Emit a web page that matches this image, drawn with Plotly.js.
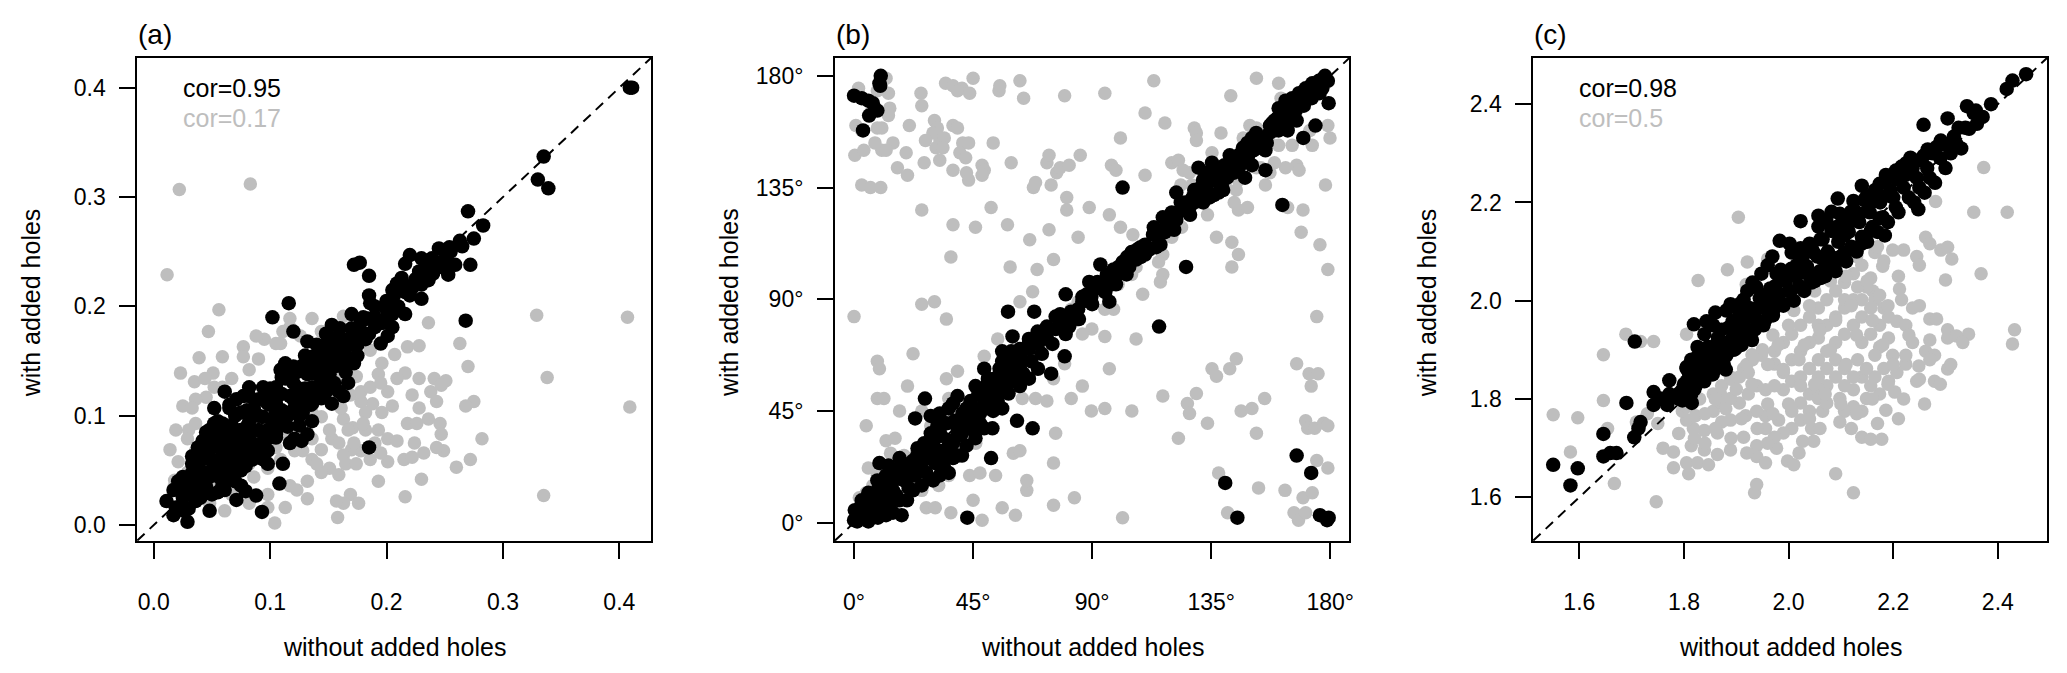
<!DOCTYPE html>
<html>
<head>
<meta charset="utf-8">
<script src="https://cdn.plot.ly/plotly-3.0.1.min.js"></script>
<style>
  html, body { margin: 0; padding: 0; background: #fff; }
  #chart { width: 2067px; height: 673px; }
</style>
</head>
<body>
<div id="chart"></div>
<script>
// Panel (a): pairs [without holes, with added holes]
const aGrey = [[0.022,0.307],[0.083,0.312],[0.0115,0.229],[0.056,0.197],[0.047,0.177],[0.329,0.192],[0.407,0.190],[0.338,0.135],[0.409,0.108],[0.335,0.027],[0.236,0.185],[0.263,0.166],[0.270,0.145],[0.275,0.113],[0.282,0.079],[0.272,0.060],[0.260,0.053],[0.249,0.068],[0.246,0.093],[0.230,0.042],[0.216,0.026],[0.193,0.040],[0.158,0.007],[0.104,0.002],[0.095,0.170],[0.088,0.173],[0.077,0.163],[0.059,0.154],[0.039,0.153],[0.023,0.139],[0.035,0.131],[0.051,0.139],[0.025,0.109],[0.014,0.069],[0.018,0.041],[0.030,0.087],[0.045,0.117],[0.036,0.115],[0.067,0.134],[0.077,0.154],[0.090,0.152],[0.105,0.166],[0.111,0.177],[0.117,0.181],[0.126,0.173],[0.163,0.191],[0.174,0.181],[0.186,0.160],[0.193,0.138],[0.196,0.148],[0.207,0.156],[0.216,0.139],[0.218,0.163],[0.228,0.164],[0.228,0.134],[0.238,0.122],[0.243,0.113],[0.251,0.132],[0.268,0.109],[0.205,0.109],[0.196,0.103],[0.188,0.111],[0.178,0.113],[0.182,0.103],[0.169,0.119],[0.174,0.136],[0.159,0.136],[0.153,0.111],[0.163,0.097],[0.171,0.089],[0.182,0.087],[0.193,0.087],[0.201,0.079],[0.209,0.077],[0.218,0.093],[0.226,0.093],[0.236,0.097],[0.224,0.075],[0.232,0.066],[0.215,0.060],[0.201,0.058],[0.195,0.066],[0.190,0.075],[0.178,0.068],[0.170,0.069],[0.163,0.064],[0.153,0.079],[0.144,0.069],[0.136,0.079],[0.136,0.060],[0.159,0.046],[0.151,0.052],[0.144,0.048],[0.132,0.040],[0.132,0.024],[0.123,0.032],[0.117,0.036],[0.169,0.028],[0.176,0.020],[0.163,0.020],[0.157,0.022],[0.113,0.016],[0.098,0.016],[0.082,0.020],[0.061,0.013],[0.048,0.020],[0.075,0.036],[0.086,0.044],[0.098,0.052],[0.109,0.060],[0.121,0.068],[0.098,0.028],[0.067,0.028],[0.136,0.189],[0.117,0.189],[0.109,0.166],[0.082,0.142],[0.052,0.126],[0.044,0.134],[0.059,0.126],[0.033,0.107],[0.036,0.093],[0.019,0.087],[0.029,0.079],[0.021,0.058],[0.029,0.048],[0.017,0.034],[0.167,0.087],[0.161,0.107],[0.136,0.103],[0.128,0.091],[0.144,0.099],[0.151,0.087],[0.128,0.068],[0.140,0.056],[0.113,0.083],[0.105,0.071],[0.096,0.064],[0.082,0.056],[0.075,0.052],[0.063,0.040],[0.052,0.040],[0.040,0.032],[0.046,0.056],[0.036,0.068],[0.033,0.060],[0.178,0.122],[0.186,0.126],[0.201,0.122],[0.195,0.130],[0.209,0.134],[0.222,0.119],[0.228,0.107],[0.241,0.134],[0.247,0.128],[0.222,0.062],[0.247,0.083],[0.243,0.071],[0.165,0.056],[0.174,0.056],[0.186,0.060],[0.159,0.075],[0.172,0.075],[0.180,0.093],[0.151,0.162],[0.163,0.150],[0.148,0.146],[0.144,0.177]];
const aBlack = [[0.409,0.400],[0.411,0.400],[0.335,0.337],[0.330,0.316],[0.339,0.308],[0.270,0.287],[0.283,0.274],[0.275,0.262],[0.263,0.260],[0.272,0.238],[0.254,0.254],[0.245,0.253],[0.251,0.244],[0.253,0.229],[0.259,0.238],[0.239,0.244],[0.230,0.244],[0.220,0.247],[0.216,0.239],[0.228,0.232],[0.236,0.224],[0.230,0.207],[0.222,0.217],[0.213,0.226],[0.209,0.221],[0.216,0.213],[0.172,0.238],[0.177,0.240],[0.185,0.228],[0.206,0.209],[0.185,0.210],[0.186,0.203],[0.199,0.199],[0.205,0.193],[0.216,0.193],[0.268,0.187],[0.185,0.071],[0.116,0.203],[0.102,0.190],[0.120,0.177],[0.132,0.168],[0.148,0.175],[0.170,0.193],[0.178,0.187],[0.174,0.177],[0.159,0.173],[0.151,0.166],[0.144,0.158],[0.136,0.154],[0.128,0.146],[0.123,0.140],[0.113,0.148],[0.167,0.170],[0.163,0.162],[0.190,0.181],[0.197,0.185],[0.201,0.173],[0.195,0.166],[0.182,0.170],[0.167,0.150],[0.172,0.148],[0.159,0.146],[0.151,0.138],[0.144,0.130],[0.136,0.126],[0.167,0.130],[0.148,0.122],[0.159,0.122],[0.153,0.111],[0.144,0.116],[0.136,0.111],[0.128,0.118],[0.123,0.126],[0.117,0.118],[0.113,0.134],[0.105,0.126],[0.098,0.120],[0.098,0.111],[0.105,0.111],[0.113,0.103],[0.121,0.107],[0.128,0.103],[0.136,0.095],[0.125,0.091],[0.121,0.079],[0.117,0.075],[0.127,0.077],[0.092,0.115],[0.086,0.107],[0.077,0.118],[0.061,0.122],[0.065,0.107],[0.075,0.103],[0.082,0.095],[0.094,0.099],[0.102,0.095],[0.109,0.091],[0.105,0.083],[0.098,0.087],[0.090,0.087],[0.082,0.083],[0.075,0.087],[0.067,0.091],[0.059,0.093],[0.052,0.093],[0.048,0.087],[0.052,0.079],[0.059,0.079],[0.067,0.079],[0.075,0.075],[0.082,0.071],[0.090,0.071],[0.098,0.068],[0.094,0.060],[0.086,0.064],[0.079,0.066],[0.071,0.068],[0.063,0.069],[0.056,0.071],[0.048,0.071],[0.044,0.066],[0.040,0.060],[0.048,0.060],[0.056,0.060],[0.063,0.058],[0.071,0.056],[0.079,0.054],[0.098,0.056],[0.111,0.056],[0.108,0.038],[0.075,0.036],[0.079,0.031],[0.071,0.023],[0.088,0.027],[0.093,0.012],[0.048,0.013],[0.033,0.063],[0.033,0.056],[0.033,0.048],[0.025,0.044],[0.021,0.040],[0.017,0.032],[0.011,0.022],[0.019,0.016],[0.017,0.009],[0.026,0.013],[0.029,0.003],[0.036,0.022],[0.042,0.036],[0.048,0.044],[0.056,0.044],[0.061,0.032],[0.050,0.028],[0.044,0.048],[0.036,0.040],[0.027,0.032],[0.067,0.044],[0.061,0.050],[0.052,0.052],[0.059,0.036],[0.098,0.079],[0.105,0.103],[0.136,0.142],[0.144,0.146],[0.117,0.134],[0.117,0.142],[0.109,0.142],[0.082,0.118],[0.071,0.115],[0.082,0.126],[0.094,0.126],[0.102,0.118],[0.151,0.150],[0.159,0.154],[0.132,0.138],[0.140,0.138],[0.153,0.183],[0.184,0.189],[0.205,0.181],[0.163,0.118],[0.132,0.083],[0.052,0.107],[0.059,0.087],[0.042,0.077],[0.038,0.071],[0.075,0.060],[0.067,0.064],
  [0.030,0.040],[0.040,0.050],[0.045,0.035],[0.050,0.060],[0.055,0.050],[0.060,0.070],[0.065,0.055],[0.070,0.080],[0.075,0.065],[0.080,0.090],[0.085,0.075],[0.090,0.100],[0.095,0.080],[0.100,0.110],[0.105,0.095],[0.110,0.120],[0.115,0.100],[0.120,0.130],[0.125,0.110],[0.130,0.140],[0.135,0.120],[0.140,0.150],[0.145,0.135],[0.150,0.160],[0.155,0.145],[0.160,0.170],[0.165,0.155],[0.170,0.180],[0.175,0.165],[0.180,0.190],[0.185,0.175],[0.190,0.200],[0.195,0.185],[0.200,0.205],[0.210,0.200],[0.215,0.220],[0.225,0.225],[0.235,0.235],[0.245,0.240],[0.255,0.250],[0.265,0.255],[0.060,0.090],[0.070,0.100],[0.080,0.105],[0.090,0.115],[0.100,0.125],[0.110,0.135],[0.120,0.145],[0.130,0.155],[0.140,0.165],[0.150,0.170],[0.160,0.180],[0.065,0.045],[0.075,0.050],[0.085,0.060],[0.095,0.070],[0.105,0.080],[0.115,0.090],[0.125,0.100],[0.135,0.110],[0.145,0.120],[0.155,0.130],[0.165,0.140],[0.175,0.155],[0.040,0.065],[0.050,0.075],[0.045,0.085],[0.055,0.095],[0.065,0.110],[0.025,0.025],[0.035,0.030],[0.040,0.025],[0.030,0.015],[0.055,0.030],[0.060,0.040],[0.070,0.040],[0.110,0.105],[0.120,0.115],[0.130,0.125],[0.140,0.140],[0.160,0.160],[0.170,0.165],[0.180,0.175],[0.190,0.190],[0.200,0.190],[0.205,0.215],[0.220,0.210],[0.230,0.220],[0.240,0.230],[0.250,0.235]];

// Panel (b): angles in degrees
const bGrey = [[1.7,175],[0.7,160],[2.9,158],[0.3,148],[3.7,150],[6.2,165],[8.8,174],[12.1,179],[13.0,173],[13.5,167],[8.8,159],[10.5,159],[7.9,153],[10.5,150],[14.7,153],[12.1,150],[13.0,164],[2.9,136],[6.2,135],[10.1,135],[16.4,143],[20.2,140],[19.7,149],[20.9,160],[25.3,173],[25.6,168],[30.4,162],[31.5,159],[29.8,157],[27.0,154],[32.5,154],[34.1,155],[31.0,151],[33.6,151],[26.5,145],[32.4,146],[34.6,177],[37.4,176],[40.8,175],[39.1,174],[43.7,173],[37.4,160],[39.1,159],[41.1,153],[40.0,149],[42.2,147],[43.3,153],[37.4,142],[42.5,141],[43.3,138],[45.0,179],[48.4,144],[49.2,142],[48.4,140],[52.6,153],[54.8,174],[55.1,176],[59.4,145],[62.7,178],[64.1,171],[67.8,135],[68.6,137],[74.5,136],[72.9,145],[73.7,148],[79.6,172],[76.6,141],[77.9,143],[81.3,144],[80.4,131],[80.4,126],[85.5,148],[88.9,127],[94.8,173],[97.3,144],[99.0,142],[100.7,155],[96.5,124],[100.7,119],[105.4,116],[110.0,165],[113.3,178],[110.0,140],[117.5,161],[120.1,145],[122.6,146],[124.4,142],[126.8,141],[128.6,159],[129.4,157],[129.4,154],[127.7,136],[131.0,134],[138.7,157],[135.3,149],[138.7,141],[142.4,172],[147.1,155],[149.6,160],[152.1,179],[152.1,159],[153.8,143],[157.2,141],[160.5,177],[161.4,171],[163.1,143],[167.3,144],[168.2,142],[170.7,170],[172.3,158],[173.2,152],[179.1,160],[179.9,155],[178.2,136],[144.5,134],[145.3,138],[145.3,126],[148.7,127],[152.1,143],[160.5,152],[25.6,126],[37.4,120],[45.9,119],[36.6,107],[51.8,127],[58.0,120],[66.4,114],[73.7,118],[75.4,106],[84.7,115],[59.0,103],[69.2,102],[0,83],[25.6,88],[30.4,89],[34.9,82],[62.7,89],[67.5,93],[82.1,86],[83.0,81],[89.9,78],[86.3,76],[94.8,75],[98.1,86],[106.6,74],[109.1,92],[116.7,100],[115.8,97],[116.7,108],[120.1,115],[123.8,119],[130.2,129],[137.0,115],[142.8,113],[142.8,103],[145.3,108],[169.0,117],[176.1,112],[179.1,102],[163.9,127],[169.7,126],[174.9,83],[115.8,120],[115.1,105],[8.8,65],[9.6,62],[22.3,68],[20.2,55],[8.8,50],[11.3,50],[17.2,45],[4.6,39],[12.1,33],[15.5,34],[5.4,22],[4.6,12],[8.8,19],[13.8,28],[17.2,20],[23.1,27],[20.6,15],[25.6,13],[27.3,6],[30.7,6],[36.6,4],[32.0,15],[35.8,19],[34.9,58],[39.1,30],[43.3,32],[46.0,32],[43.7,19],[47.6,20],[45.0,9],[48.4,1],[53.5,19],[56.0,6],[61.0,3],[60.2,28],[65.3,13],[65.3,17],[62.7,29],[63.6,50],[68.6,50],[72.9,49],[76.2,36],[75.4,24],[75.4,7],[83.3,10],[82.1,50],[86.3,55],[89.7,45],[94.8,46],[96.5,62],[101.5,2],[105.0,45],[116.7,51],[122.6,34],[126.0,48],[126.8,44],[129.4,52],[133.6,40],[135.3,62],[137.0,59],[142.0,62],[144.5,66],[137.8,20],[141.2,4],[146.3,45],[150.4,46],[152.1,36],[155.2,50],[152.9,14],[162.9,13],[166.3,4],[168.0,1],[169.7,10],[167.3,64],[172.0,60],[172.8,55],[175.4,60],[170.7,41],[171.5,38],[174.1,38],[177.5,40],[179.1,39],[174.9,25],[179.1,22],[173.2,12],[170.7,4],[40.8,45],[35.8,50],[39.1,61],[49.2,67],[54.3,74],[59.4,62],[72.9,77],[79.6,64],[75.4,58],[25.6,45],[29.0,39],[18.9,27],[14.7,20],[7.1,15],[2.0,10],[148.7,145],[155.5,136],[158.9,145],[165.6,152],[157.2,153],[140.3,136],[143.7,129],[123.5,136],[133.6,124],[106.6,103],[104.9,100],[99.8,96],[94.8,86],[84.7,89]];
const bBlack = [[0,172],[2.9,171],[5.4,170],[7.1,169],[9.6,177],[10.1,180],[9.9,176],[5.7,164],[8.8,166],[3.4,158],[101.5,135],[161.9,128],[125.5,103],[115.3,79],[169.8,155],[174.4,160],[179.4,169],[58.2,85],[59.9,75],[68.1,85],[74.5,60],[79.6,67],[80.0,92],[26.8,50],[23.1,42],[37.4,48],[61.6,41],[67.5,38],[52.3,38],[51.8,26],[42.8,2],[140.3,16],[144.9,2],[167.3,27],[172.8,20],[176.1,3],[178.8,1],[179.4,2],[0.3,5],[1.2,0.5],[3.7,3],[5.4,0.5],[7.1,6],[9.6,7],[12.1,3],[14.7,4],[18.0,3],[8.8,13],[10.5,15],[9.6,24],[13.0,23],[17.2,19],[20.6,14],[15.5,20],[17.2,22],[22.3,25],[25.6,27],[26.5,32],[29.0,36],[31.5,39],[32.4,29],[32.4,19],[35.8,20],[34.1,27],[37.4,32],[39.1,38],[41.7,41],[44.2,45],[49.0,50],[50.6,58],[55.0,62],[56.0,65],[59.4,69],[62.7,70],[66.1,74],[69.4,77],[72.9,79],[76.2,83],[77.9,84],[81.3,79],[84.7,86],[86.3,89],[89.7,91],[88.9,97],[94.8,93],[97.3,96],[99.8,100],[93.1,104],[98.1,102],[101.5,105],[104.9,109],[108.3,111],[110.0,112],[113.3,119],[115.1,116],[115.8,112],[116.7,123],[120.1,125],[123.5,129],[121.8,133],[125.2,129],[128.6,134],[130.2,130],[131.9,138],[133.6,141],[135.3,145],[137.0,142],[138.7,138],[140.3,141],[142.0,145],[143.7,146],[145.3,148],[147.0,151],[148.7,153],[150.4,155],[152.1,152],[153.8,153],[155.5,150],[157.2,160],[158.9,162],[160.5,167],[163.1,170],[164.8,169],[165.6,171],[168.2,173],[170.7,175],[173.2,177],[175.7,178],[177.4,179],[179.1,178],[165.6,165],[167.3,162],[163.9,158],[160.5,158],[155.5,142],[150.4,144],[147.8,139],[143.7,141],[137.8,133],[134.4,131],[130.2,143],[148.7,146],[106.6,106],[103.2,107],[96.5,89],[39.1,51],[43.3,38],[46.0,39],[47.6,44],[49.2,48],[50.9,53],[54.3,55],[56.8,58],[59.4,60],[62.7,62],[56.0,46],[52.6,45],[49.2,38],[45.9,34],[42.5,31],[39.1,27],[35.8,31],[32.4,38],[29.0,31],[25.6,22],[23.1,19],[20.6,20],[18.9,17],[14.7,13],[12.1,10],[8.8,5],[4.6,7],[2.0,4],[0,1],[29.0,43],[32.4,44],[35.8,46],[42.5,46],[45.9,55],[49.2,62],[56.0,69],[62.7,65],[66.1,70],[69.5,72],[72.9,74],[69.5,62],[66.1,58],[62.7,55],[58.4,52],[54.3,49],[50.9,46],[47.6,40],[44.2,40],[40.8,36],[37.4,26],[34.1,22],[30.7,24],[27.3,20],[23.9,27],[21.4,24],[17.2,26],[12.1,19],[8.8,17],[5.4,12],[2.9,9],[10.5,7],[13.8,8],[17.2,9],[22.3,13],[25.6,15],[29.9,17],[33.2,24],[40.8,27],[76.2,78],[79.6,81],[83.0,82],[86.3,91],[90.6,94],[93.1,96],[95.6,100],[99.0,96],[100.7,101],[104.0,103],[108.3,107],[111.6,110],[114.2,111],[117.5,117],[119.2,120],[121.8,122],[124.4,126],[126.8,127],[128.6,129],[131.0,133],[132.8,134],[136.1,138],[139.5,134],
  [3,8],[5,3],[7,11],[9,2],[11,14],[13,6],[15,17],[16,11],[19,21],[20,9],[22,19],[24,30],[26,21],[28,26],[30,33],[31,27],[33,35],[35,40],[36,33],[38,41],[39,35],[41,44],[42,38],[44,49],[45,42],[47,52],[48,46],[50,55],[51,49],[53,58],[55,52],[57,62],[58,56],[60,65],[61,58],[63,68],[64,60],[66,72],[67,65],[70,74],[71,68],[73,77],[75,72],[78,80],[80,76],[82,85],[85,82],[88,92],[90,88],[92,97],[95,93],[100,103],[103,100],[107,110],[110,108],[113,116],[118,120],[121,118],[124,127],[127,124],[130,133],[132,129],[134,137],[136,132],[138,143],[139,136],[141,139],[142,148],[144,143],[146,144],[147,149],[149,148],[151,150],[152,157],[154,155],[156,153],[157,157],[159,158],[160,163],[161,160],[162,164],[164,162],[166,168],[167,166],[169,170],[170,168],[172,174],[173,171],[175,176],[176,173],[178,180],[177,175],[171,172],[168,168],[163,166],[158,161],[153,151],[148,151],[145,146],[140,144],[135,140],[131,135],[128,131]];

// Panel (c)
const cGrey = [[2.373,2.271],[2.281,2.202],[2.354,2.180],[2.418,2.180],[1.904,2.170],[2.262,2.129],[2.270,2.116],[2.220,2.103],[2.199,2.103],[2.245,2.090],[2.250,2.072],[2.291,2.103],[2.304,2.109],[2.312,2.085],[2.368,2.055],[2.300,2.042],[2.182,2.081],[2.165,2.098],[2.140,2.072],[2.161,2.020],[2.165,2.002],[2.212,2.024],[2.216,2.002],[2.237,1.985],[2.270,1.963],[2.283,1.963],[2.304,1.941],[2.304,1.924],[2.321,1.928],[2.344,1.932],[2.333,1.915],[2.432,1.941],[2.428,1.912],[2.237,1.915],[2.262,1.897],[2.279,1.889],[2.304,1.861],[2.279,1.836],[2.245,1.836],[2.249,1.867],[2.224,1.871],[2.224,1.889],[2.191,1.924],[2.199,1.889],[2.174,1.906],[2.165,1.889],[2.182,1.862],[2.191,1.836],[2.165,1.845],[2.174,1.810],[2.203,1.814],[2.186,1.777],[2.149,1.801],[2.140,1.775],[2.124,1.784],[2.107,1.775],[2.098,1.753],[2.098,1.801],[2.124,1.819],[2.140,1.845],[2.149,1.862],[2.132,1.880],[2.107,1.862],[2.090,1.845],[2.073,1.827],[2.057,1.819],[2.040,1.810],[2.023,1.792],[2.006,1.775],[1.981,1.757],[1.956,1.766],[1.939,1.775],[1.918,1.766],[1.889,1.757],[1.872,1.753],[1.864,1.731],[1.839,1.736],[1.818,1.740],[1.805,1.757],[1.797,1.775],[1.822,1.766],[1.814,1.705],[1.839,1.696],[1.864,1.687],[1.805,1.670],[1.780,1.692],[1.809,1.648],[1.826,1.670],[1.847,1.666],[1.889,1.696],[1.914,1.722],[1.939,1.705],[1.939,1.683],[1.956,1.670],[1.977,1.700],[1.998,1.674],[2.010,1.666],[2.027,1.714],[2.048,1.714],[2.044,1.740],[2.065,1.775],[2.090,1.648],[2.124,1.609],[1.935,1.609],[1.939,1.626],[2.140,1.722],[2.157,1.718],[2.178,1.718],[1.747,1.591],[1.667,1.628],[1.583,1.692],[1.550,1.768],[1.597,1.762],[1.646,1.797],[1.646,1.890],[1.654,1.740],[1.709,1.753],[1.689,1.932],[1.717,1.917],[1.742,1.917],[1.827,2.041],[1.883,2.063],[1.921,2.079],[1.960,2.085],[1.919,2.033],[1.805,1.932],[1.805,1.784],[1.856,1.775],[1.856,1.810],[1.872,1.827],[1.889,1.845],[1.914,1.862],[1.931,1.880],[1.948,1.889],[1.973,1.897],[1.990,1.915],[2.006,1.932],[2.023,1.950],[2.040,1.967],[2.057,1.985],[2.073,2.002],[2.090,2.020],[2.107,2.037],[2.124,2.055],[1.973,1.871],[1.990,1.854],[2.006,1.836],[2.023,1.845],[2.040,1.862],[2.057,1.880],[2.073,1.897],[2.090,1.915],[2.107,1.932],[2.124,1.950],[2.140,1.967],[2.157,1.985],[2.057,1.924],[2.040,1.915],[2.023,1.897],[2.006,1.880],[1.990,1.819],[1.973,1.827],[1.956,1.819],[1.939,1.827],[1.923,1.810],[1.906,1.792],[1.889,1.801],[1.872,1.792],[1.906,1.845],[1.923,1.854],[2.090,1.967],[2.107,1.985],[2.124,2.002],[2.073,1.950],[2.057,1.950],[2.140,1.915],[2.157,1.932],[2.174,1.950],[2.191,1.967],[2.207,1.958],[2.224,1.950],[2.207,1.854],[2.073,1.862],[2.090,1.880],[2.023,1.827],[2.057,1.845],[2.107,1.827],[2.124,1.845],[2.157,1.827],[2.057,1.801],[2.073,1.792],[2.040,1.775],[2.023,1.757],[2.006,1.740],[1.990,1.731],[1.973,1.722],[1.956,1.740],[2.107,2.002],[2.140,2.002],[2.149,2.028],[2.132,2.028],[2.182,1.985],[2.174,2.011],[2.157,2.046],
  [1.87,1.81],[1.93,1.83],[1.96,1.79],[1.99,1.86],[2.02,1.88],[2.05,1.83],[2.08,1.90],[2.11,1.87],[2.13,1.93],[2.16,1.96],[2.18,1.91],[2.20,1.87],[2.12,1.99],[2.09,1.96],[2.06,1.94],[2.03,1.91],[2.00,1.95],[1.97,1.93],[1.95,1.90],[1.92,1.87],[1.89,1.84],[1.86,1.80],[1.84,1.77],[1.83,1.80],[1.88,1.78],[1.91,1.76],[1.94,1.74],[1.97,1.77],[2.00,1.79],[2.04,1.76],[2.07,1.81],[2.10,1.79],[2.13,1.77],[2.16,1.80],[2.19,1.83],[2.22,1.80],[2.25,1.84],[2.27,1.88],[2.23,1.93],[2.19,1.99],[2.15,2.04],[2.11,2.05],[2.08,2.04],[2.04,1.99],[2.01,1.98],[1.98,1.91],[1.96,1.87],[1.93,1.89],[1.90,1.82],[1.86,1.74],[1.82,1.72],[1.79,1.73],[1.76,1.70],[1.78,1.66],[1.84,1.71],[1.89,1.72],[1.92,1.69],[1.96,1.71],[2.02,1.69],[2.06,1.74],[2.12,1.74],[2.17,1.75],[2.21,1.76],[2.26,1.79],[2.29,1.83],[2.31,1.87],[2.27,1.92],[2.25,1.99],[2.21,2.05],[2.18,2.07],[2.13,2.09],[2.17,2.11],[2.05,2.02],[1.99,2.01],[1.95,1.96],[1.91,1.93],[1.87,1.89],[1.83,1.84],[1.80,1.81],[1.77,1.79],[1.75,1.75],[1.73,1.77]];
const cBlack = [[2.454,2.461],[2.428,2.448],[2.417,2.431],[2.387,2.400],[2.371,2.374],[2.354,2.382],[2.341,2.396],[2.304,2.371],[2.258,2.358],[2.338,2.352],[2.316,2.334],[2.300,2.317],[2.283,2.313],[2.275,2.300],[2.258,2.295],[2.249,2.286],[2.237,2.269],[2.224,2.256],[2.216,2.273],[2.207,2.247],[2.186,2.256],[2.174,2.238],[2.195,2.225],[2.182,2.212],[2.165,2.203],[2.140,2.234],[2.149,2.212],[2.124,2.203],[2.119,2.181],[2.094,2.208],[2.098,2.177],[2.082,2.181],[2.057,2.173],[2.073,2.160],[2.057,2.151],[2.082,2.142],[2.107,2.133],[2.023,2.162],[2.248,2.186],[2.184,2.133],[1.983,2.122],[2.002,2.116],[2.040,2.116],[2.061,2.125],[2.048,2.098],[2.027,2.090],[2.015,2.072],[1.985,2.063],[1.977,2.055],[2.006,2.055],[2.035,2.063],[2.065,2.085],[2.090,2.081],[2.107,2.098],[2.124,2.107],[2.140,2.116],[2.157,2.142],[2.174,2.168],[2.082,2.089],[2.061,2.046],[2.044,2.037],[2.023,2.028],[2.002,2.019],[1.981,2.011],[1.964,2.002],[1.948,2.011],[1.921,2.020],[1.940,1.985],[1.957,1.985],[1.973,1.985],[1.990,1.993],[1.931,1.967],[1.906,1.993],[1.906,1.976],[1.881,1.980],[1.860,1.976],[1.893,1.958],[1.914,1.950],[1.935,1.941],[1.952,1.950],[1.819,1.952],[1.856,1.950],[1.872,1.941],[1.839,1.932],[1.864,1.915],[1.847,1.906],[1.826,1.906],[1.885,1.915],[1.906,1.924],[1.923,1.924],[1.898,1.902],[1.881,1.889],[1.864,1.884],[1.847,1.880],[1.830,1.875],[1.814,1.880],[1.805,1.862],[1.822,1.854],[1.843,1.854],[1.860,1.862],[1.876,1.871],[1.805,1.836],[1.822,1.827],[1.839,1.836],[1.797,1.819],[1.814,1.810],[1.797,1.797],[1.815,1.792],[1.772,1.838],[1.789,1.810],[1.768,1.788],[1.742,1.814],[1.742,1.788],[1.717,1.753],[1.713,1.740],[1.705,1.722],[1.690,1.792],[1.706,1.917],[1.646,1.729],[1.646,1.683],[1.659,1.690],[1.671,1.690],[1.550,1.666],[1.583,1.624],[1.597,1.659],[1.755,1.801],[1.772,1.810],[1.843,1.958],[1.889,1.993],[1.938,2.028],[2.006,2.098],[2.233,2.291],[2.266,2.308],[2.291,2.326],[2.325,2.352],[2.358,2.387],[2.094,2.151],[2.115,2.160],[2.136,2.177],[2.153,2.195],[2.023,2.107],[1.969,2.090],[1.960,2.072],[1.948,2.055],[1.931,2.037],[1.914,2.002],
  [1.79,1.80],[1.80,1.83],[1.81,1.85],[1.82,1.82],[1.83,1.86],[1.835,1.84],[1.84,1.89],[1.85,1.87],[1.855,1.85],[1.86,1.90],[1.87,1.88],[1.875,1.91],[1.88,1.86],[1.89,1.92],[1.895,1.90],[1.90,1.94],[1.91,1.91],[1.915,1.96],[1.92,1.94],[1.93,1.92],[1.935,1.97],[1.94,1.95],[1.95,1.99],[1.955,1.96],[1.96,2.00],[1.97,1.97],[1.975,2.03],[1.98,2.00],[1.99,1.99],[1.995,2.04],[2.00,2.02],[2.01,2.00],[2.015,2.05],[2.02,2.03],[2.03,2.02],[2.035,2.07],[2.04,2.05],[2.05,2.04],[2.055,2.09],[2.06,2.06],[2.07,2.05],[2.075,2.10],[2.08,2.07],[2.09,2.06],[2.095,2.12],[2.10,2.09],[2.11,2.08],[2.115,2.14],[2.12,2.11],[2.13,2.10],[2.135,2.16],[2.14,2.13],[2.15,2.12],[2.155,2.18],[2.16,2.15],[2.17,2.14],[2.175,2.20],[2.18,2.17],[2.19,2.16],[2.20,2.21],[2.205,2.19],[2.21,2.18],[2.22,2.23],[2.23,2.21],[2.24,2.20],[2.245,2.25],[2.25,2.23],[2.26,2.22],[2.265,2.27],[2.27,2.25],[2.28,2.24],[2.29,2.29],[2.30,2.27],[2.31,2.30],[2.32,2.32],[2.33,2.31],[2.345,2.35],[2.36,2.36],[1.965,2.025],[1.945,2.005],[1.925,1.985],[1.905,1.965],[1.885,1.945],[1.865,1.925],[1.845,1.905],[1.825,1.885],[1.805,1.865],[1.985,2.045],[2.005,2.065],[2.025,2.085],[2.045,2.105],[2.065,2.125],[2.085,2.145],[2.105,2.165],[2.125,2.185],[2.145,2.205],[2.165,2.225],[2.185,2.245],[2.205,2.265],[2.225,2.28]];

const aTicks = [0, 0.1, 0.2, 0.3, 0.4];
const aTickText = ['0.0', '0.1', '0.2', '0.3', '0.4'];
const bTicks = [0, 45, 90, 135, 180];
const bTickText = ['0°', '45°', '90°', '135°', '180°'];
const cTicks = [1.6, 1.8, 2.0, 2.2, 2.4];
const cTickText = ['1.6', '1.8', '2.0', '2.2', '2.4'];

const panelLabels = ['(a)', '(b)', '(c)'];
const corBlack = ['cor=0.95', null, 'cor=0.98'];
const corGrey = ['cor=0.17', null, 'cor=0.5'];

const GREY = '#bebebe';
const W = 2067, H = 673;
const FONT = 'Liberation Sans, Arial, Helvetica, sans-serif';

// Box positions in pixels (left, right), shared top/bottom
const boxes = [[137.3, 651], [835, 1349.3], [1533.3, 2047]];
const boxTop = 58, boxBottom = 540.5;
const ranges = [[-0.0141, 0.4272], [-7.2, 187.2], [1.512, 2.494]];

function makeTrace(pairs, axisIdx, color, size) {
    const suffix = axisIdx === 1 ? '' : String(axisIdx);
    return {
        x: pairs.map(p => p[0]),
        y: pairs.map(p => p[1]),
        type: 'scatter',
        mode: 'markers',
        xaxis: 'x' + suffix,
        yaxis: 'y' + suffix,
        marker: { color: color, size: size, line: { width: 0 } },
        hoverinfo: 'x+y',
        showlegend: false
    };
}

function makeAxis(domain, range, tickvals, ticktext, anchor, isY) {
    return {
        domain: domain,
        range: range,
        anchor: anchor,
        tickmode: 'array',
        tickvals: tickvals,
        ticktext: ticktext,
        ticks: 'outside',
        ticklen: 16,
        tickwidth: 2,
        tickcolor: '#000',
        ticklabelstandoff: isY ? 9 : 24,
        tickfont: { family: FONT, size: 23, color: '#000' },
        showline: true,
        mirror: true,
        linecolor: '#000',
        linewidth: 2,
        showgrid: false,
        zeroline: false,
        fixedrange: true
    };
}

const traces = [
    makeTrace(aGrey, 1, GREY, 13.5), makeTrace(aBlack, 1, '#000', 14.5),
    makeTrace(bGrey, 2, GREY, 13.5), makeTrace(bBlack, 2, '#000', 14.5),
    makeTrace(cGrey, 3, GREY, 13.5), makeTrace(cBlack, 3, '#000', 14.5)
];

const yDomain = [(H - boxBottom) / H, (H - boxTop) / H];
const tickSets = [[aTicks, aTickText], [bTicks, bTickText], [cTicks, cTickText]];

const layout = {
    width: W,
    height: H,
    margin: { l: 0, r: 0, t: 0, b: 0 },
    paper_bgcolor: '#fff',
    plot_bgcolor: '#fff',
    showlegend: false,
    font: { family: FONT, color: '#000' },
    annotations: [],
    shapes: []
};

boxes.forEach((b, i) => {
    const suffix = i === 0 ? '' : String(i + 1);
    const xDomain = [b[0] / W, b[1] / W];
    layout['xaxis' + suffix] = makeAxis(xDomain, ranges[i], tickSets[i][0], tickSets[i][1], 'y' + suffix, false);
    layout['yaxis' + suffix] = makeAxis(yDomain, ranges[i], tickSets[i][0], tickSets[i][1], 'x' + suffix, true);

    // Diagonale y = x (ranges are equal, so corner to corner)
    layout.shapes.push({
        type: 'line', layer: 'above',
        xref: 'x' + suffix + ' domain', yref: 'y' + suffix + ' domain',
        x0: 0, y0: 0, x1: 1, y1: 1,
        line: { color: '#000', width: 2, dash: '10px,7px' }
    });

    // Panel label
    layout.annotations.push({
        text: panelLabels[i], xref: 'paper', yref: 'paper',
        x: (b[0] - 1) / W, y: (H - 34) / H, xanchor: 'left', yanchor: 'middle',
        showarrow: false, font: { family: FONT, size: 28, color: '#000' }
    });
    // Axis titles
    layout.annotations.push({
        text: 'without added holes', xref: 'paper', yref: 'paper',
        x: (b[0] + b[1]) / 2 / W, y: (H - 647) / H, xanchor: 'center', yanchor: 'middle',
        showarrow: false, font: { family: FONT, size: 25, color: '#000' }
    });
    layout.annotations.push({
        text: 'with added holes', xref: 'paper', yref: 'paper', textangle: -90,
        x: (b[0] - 106) / W, y: (H - 303) / H, xanchor: 'center', yanchor: 'middle',
        showarrow: false, font: { family: FONT, size: 25, color: '#000' }
    });
    // Correlation labels
    if (corBlack[i]) {
        layout.annotations.push({
            text: corBlack[i], xref: 'paper', yref: 'paper',
            x: (b[0] + 44) / W, y: (H - 88) / H, xanchor: 'left', yanchor: 'middle',
            showarrow: false, font: { family: FONT, size: 25, color: '#000' }
        });
        layout.annotations.push({
            text: corGrey[i], xref: 'paper', yref: 'paper',
            x: (b[0] + 44) / W, y: (H - 118) / H, xanchor: 'left', yanchor: 'middle',
            showarrow: false, font: { family: FONT, size: 25, color: GREY }
        });
    }
});

Plotly.newPlot('chart', traces, layout, { displayModeBar: false, staticPlot: true });
</script>
</body>
</html>
